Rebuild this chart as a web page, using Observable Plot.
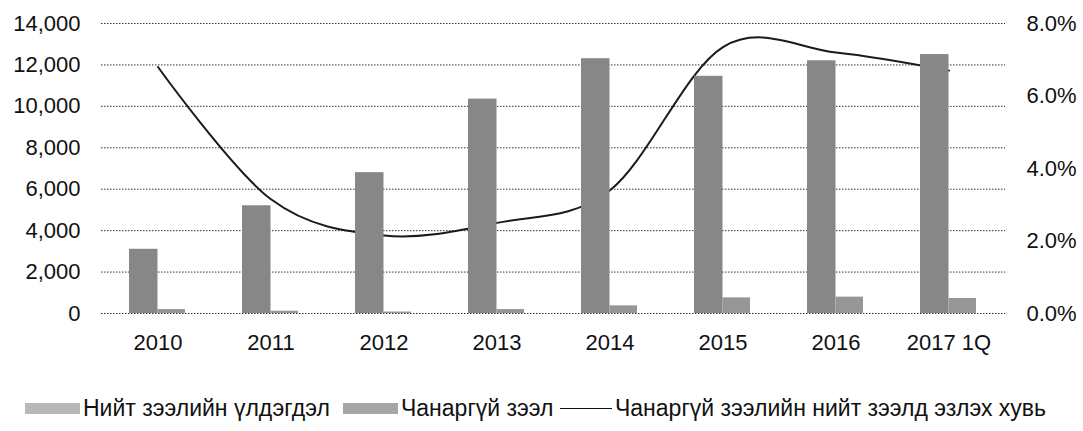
<!DOCTYPE html>
<html>
<head>
<meta charset="utf-8">
<script src="https://cdn.jsdelivr.net/npm/d3@7"></script>
<script src="https://cdn.jsdelivr.net/npm/@observablehq/plot@0.6"></script>
<style>
  body { margin: 0; background: #fff; font-family: "Liberation Sans", Arial, sans-serif; }
  #legend { position: absolute; left: 0; top: 396px; width: 1083px; height: 24px; font-size: 23px; color: #111; }
  .item { position: absolute; top: 0; display: flex; align-items: center; white-space: nowrap; height: 24px; }
  .sw { display: inline-block; width: 55px; height: 11px; margin-right: 3px; }
  .ln { display: inline-block; width: 52px; height: 0; border-top: 1.5px solid #111; margin-right: 3px; }
</style>
</head>
<body>
<div id="chart"></div>
<div id="legend"></div>
<script>
const years = ["2010", "2011", "2012", "2013", "2014", "2015", "2016", "2017 1Q"];
const totalLoans = [3100, 5200, 6800, 10350, 12300, 11450, 12200, 12500];
const nplLoans = [190, 110, 70, 190, 370, 755, 790, 725];
const nplRatio = [6.8, 3.15, 2.15, 2.5, 3.4, 7.35, 7.2, 6.7];
const leftTicks = [0, 2000, 4000, 6000, 8000, 10000, 12000, 14000];
const rightTicks = [0, 2, 4, 6, 8];
const seriesNames = ["Нийт зээлийн үлдэгдэл", "Чанаргүй зээл", "Чанаргүй зээлийн нийт зээлд эзлэх хувь"];

const table = years.map((y, i) => ({year: y, total: totalLoans[i], npl: nplLoans[i], ratio: nplRatio[i]}));
const yMax = 14000, pMax = 8;
const k = yMax / pMax;

const chart = Plot.plot({
  width: 1083,
  height: 372,
  marginTop: 23,
  marginBottom: 59,
  marginLeft: 101,
  marginRight: 78,
  style: {fontFamily: "'Liberation Sans', Arial, sans-serif", color: "#111", background: "#fff"},
  x: {type: "band", domain: years, padding: 0, axis: null},
  y: {domain: [0, yMax], axis: null},
  marks: [
    Plot.gridY(leftTicks, {stroke: "#333", strokeOpacity: 1, strokeWidth: 1, strokeDasharray: "1.5,1.5"}),
    Plot.lineY(table, {x: "year", y: d => d.ratio * k, curve: "cardinal", tension: 0, stroke: "#1a1a1a", strokeWidth: 2}),
    Plot.barY(table, {x: "year", y: "total", fill: "#878787", insetLeft: 28, insetRight: 56.5}),
    Plot.barY(table, {x: "year", y: "npl", fill: "#969696", insetLeft: 56.5, insetRight: 29}),
    Plot.axisY({anchor: "left", ticks: leftTicks, tickFormat: d3.format(","), tickSize: 0, tickPadding: 21, fontSize: 22, label: null}),
    Plot.axisY({anchor: "right", ticks: rightTicks.map(p => p * k), tickFormat: d => (d / k).toFixed(1) + "%", tickSize: 0, tickPadding: 21, fontSize: 22, label: null}),
    Plot.axisX({tickSize: 0, tickPadding: 21, fontSize: 22, label: null})
  ]
});
document.getElementById("chart").appendChild(chart);

const legend = document.getElementById("legend");
const items = [
  {left: 25, kind: "sw", color: "#b8b8b8", label: seriesNames[0]},
  {left: 343, kind: "sw", color: "#a6a6a6", label: seriesNames[1]},
  {left: 560, kind: "ln", color: "#111", label: seriesNames[2]}
];
for (const it of items) {
  const d = document.createElement("div");
  d.className = "item";
  d.style.left = it.left + "px";
  const s = document.createElement("span");
  s.className = it.kind;
  if (it.kind === "sw") s.style.background = it.color;
  d.appendChild(s);
  const t = document.createElement("span");
  t.textContent = it.label;
  d.appendChild(t);
  legend.appendChild(d);
}
</script>
</body>
</html>
